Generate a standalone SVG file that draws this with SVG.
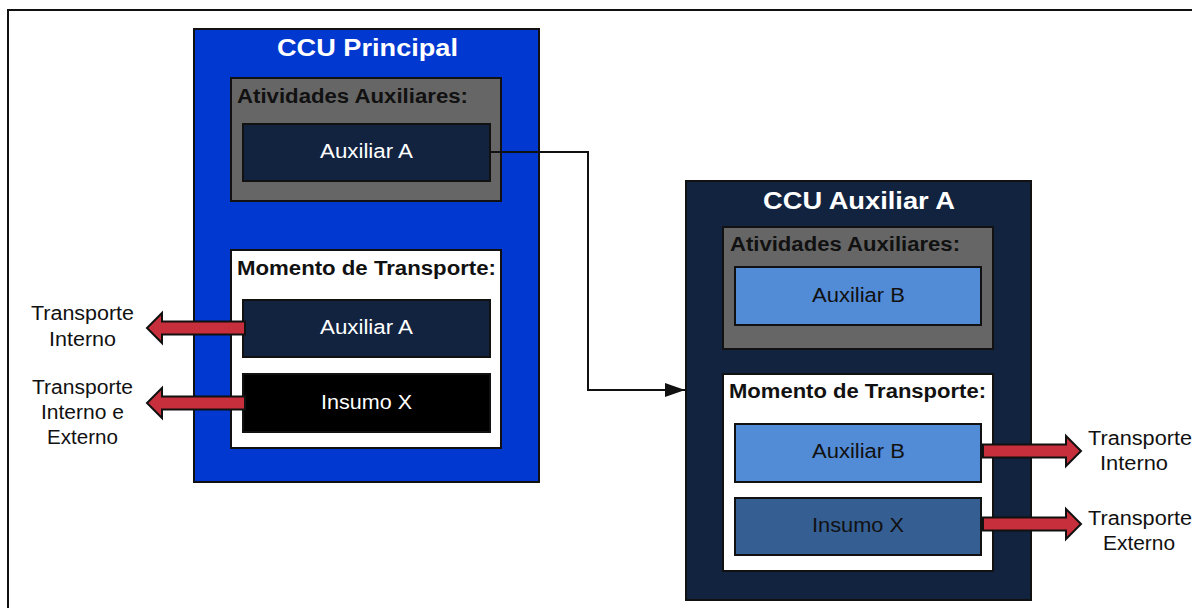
<svg xmlns="http://www.w3.org/2000/svg" width="1192" height="608" viewBox="0 0 1192 608">
  <style>
    .frame { fill: #ffffff; stroke: #111111; stroke-width: 2; }
    .box { stroke: #111111; stroke-width: 2; }
    .title { font-family: "Liberation Sans", Arial, sans-serif; font-size: 24px; font-weight: bold; fill: #ffffff; text-anchor: middle; }
    .section { font-family: "Liberation Sans", Arial, sans-serif; font-size: 20px; font-weight: bold; fill: #111111; }
    .item { font-family: "Liberation Sans", Arial, sans-serif; font-size: 20px; text-anchor: middle; }
    .side { font-family: "Liberation Sans", Arial, sans-serif; font-size: 19.5px; fill: #111111; text-anchor: middle; }
    .flow { fill: #c62f3b; stroke: #111111; stroke-width: 2; stroke-linejoin: miter; }
    .link { fill: none; stroke: #111111; stroke-width: 2; }
  </style>
  <defs>
    <marker id="arrowhead" viewBox="0 0 20 14" refX="20" refY="7" markerWidth="20" markerHeight="14" markerUnits="userSpaceOnUse" orient="auto">
      <path d="M0,0 L20,7 L0,14 Z" fill="#111111"/>
    </marker>
    <!-- block arrow pointing right, tip at origin -->
    <path id="blockArrow" d="M-98,-6.5 L-15,-6.5 L-15,-15 L0,0 L-15,15 L-15,6.5 L-98,6.5 Z"/>
  </defs>

  <rect x="0" y="0" width="1192" height="608" fill="#ffffff"/>
  <rect class="frame" x="8" y="10" width="1200" height="620"/>

  <!-- CCU Principal -->
  <g id="ccu-principal">
    <rect class="box" x="194" y="29" width="345" height="453" fill="#0038d0"/>
    <text class="title" x="367.5" y="56" textLength="181" lengthAdjust="spacingAndGlyphs">CCU Principal</text>
  </g>
  <g id="principal-atividades">
    <rect class="box" x="231" y="78" width="270" height="123" fill="#666666"/>
    <text class="section" x="237" y="103" textLength="231" lengthAdjust="spacingAndGlyphs">Atividades Auxiliares:</text>
  </g>
  <g id="principal-atividades-auxiliar-a">
    <rect class="box" x="243" y="124" width="247" height="57" fill="#12233f"/>
    <text class="item" x="366.5" y="157.5" fill="#ffffff" textLength="93" lengthAdjust="spacingAndGlyphs">Auxiliar A</text>
  </g>
  <g id="principal-momento">
    <rect class="box" x="231" y="250" width="270" height="198" fill="#ffffff"/>
    <text class="section" x="237" y="275" textLength="259" lengthAdjust="spacingAndGlyphs">Momento de Transporte:</text>
  </g>
  <g id="principal-momento-auxiliar-a">
    <rect class="box" x="243" y="300" width="247" height="57" fill="#12233f"/>
    <text class="item" x="366.5" y="333.5" fill="#ffffff" textLength="93" lengthAdjust="spacingAndGlyphs">Auxiliar A</text>
  </g>
  <g id="principal-momento-insumo-x">
    <rect class="box" x="243" y="374" width="247" height="58" fill="#000000"/>
    <text class="item" x="366.5" y="409" fill="#ffffff" textLength="91" lengthAdjust="spacingAndGlyphs">Insumo X</text>
  </g>
  <g id="label-transporte-interno-left">
    <text class="side" x="82.5" y="320" textLength="103" lengthAdjust="spacingAndGlyphs">Transporte</text>
    <text class="side" x="82.5" y="346" textLength="67" lengthAdjust="spacingAndGlyphs">Interno</text>
  </g>
  <g id="label-transporte-interno-externo">
    <text class="side" x="82.5" y="394" textLength="101" lengthAdjust="spacingAndGlyphs">Transporte</text>
    <text class="side" x="82.5" y="419" textLength="83" lengthAdjust="spacingAndGlyphs">Interno e</text>
    <text class="side" x="82.5" y="444" textLength="71" lengthAdjust="spacingAndGlyphs">Externo</text>
  </g>

  <!-- CCU Auxiliar A -->
  <g id="ccu-auxiliar-a">
    <rect class="box" x="686" y="181" width="345" height="419" fill="#12233f"/>
    <text class="title" x="859" y="209" textLength="192" lengthAdjust="spacingAndGlyphs">CCU Auxiliar A</text>
  </g>
  <g id="auxiliar-a-atividades">
    <rect class="box" x="723" y="227" width="270" height="122" fill="#666666"/>
    <text class="section" x="730" y="251" textLength="230" lengthAdjust="spacingAndGlyphs">Atividades Auxiliares:</text>
  </g>
  <g id="auxiliar-a-atividades-auxiliar-b">
    <rect class="box" x="735" y="267" width="246" height="58" fill="#528bd6"/>
    <text class="item" x="858.5" y="302" fill="#111111" textLength="93" lengthAdjust="spacingAndGlyphs">Auxiliar B</text>
  </g>
  <g id="auxiliar-a-momento">
    <rect class="box" x="723" y="374" width="270" height="197" fill="#ffffff"/>
    <text class="section" x="729" y="398" textLength="257" lengthAdjust="spacingAndGlyphs">Momento de Transporte:</text>
  </g>
  <g id="auxiliar-a-momento-auxiliar-b">
    <rect class="box" x="735" y="424" width="246" height="58" fill="#528bd6"/>
    <text class="item" x="858.5" y="458" fill="#111111" textLength="93" lengthAdjust="spacingAndGlyphs">Auxiliar B</text>
  </g>
  <g id="auxiliar-a-momento-insumo-x">
    <rect class="box" x="735" y="498" width="246" height="57" fill="#355e92"/>
    <text class="item" x="858" y="532" fill="#111111" textLength="92" lengthAdjust="spacingAndGlyphs">Insumo X</text>
  </g>
  <g id="label-transporte-interno-right">
    <text class="side" x="1140" y="445" textLength="104" lengthAdjust="spacingAndGlyphs">Transporte</text>
    <text class="side" x="1134" y="470" textLength="68" lengthAdjust="spacingAndGlyphs">Interno</text>
  </g>
  <g id="label-transporte-externo">
    <text class="side" x="1140" y="525" textLength="104" lengthAdjust="spacingAndGlyphs">Transporte</text>
    <text class="side" x="1139" y="550" textLength="72" lengthAdjust="spacingAndGlyphs">Externo</text>
  </g>

  <!-- connectors -->
  <g id="connectors">
    <path class="link" d="M490,152 H588 V390 H685" marker-end="url(#arrowhead)"/>
    <use href="#blockArrow" class="flow" transform="translate(147,328) rotate(180)"/>
    <use href="#blockArrow" class="flow" transform="translate(147,403) rotate(180)"/>
    <use href="#blockArrow" class="flow" transform="translate(1081,451)"/>
    <use href="#blockArrow" class="flow" transform="translate(1081,524)"/>
  </g>
</svg>
